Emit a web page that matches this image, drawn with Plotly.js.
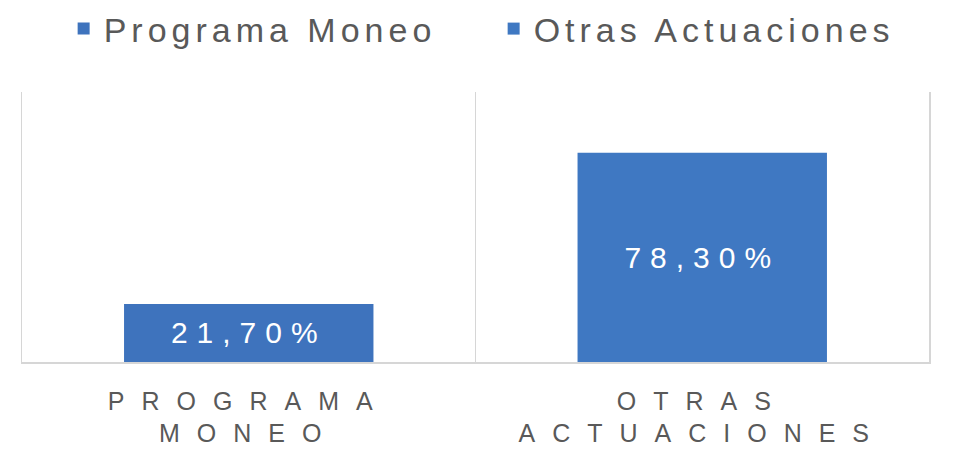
<!DOCTYPE html>
<html>
<head>
<meta charset="utf-8">
<script src="https://cdn.plot.ly/plotly-3.0.1.min.js"></script>
<style>
  html, body { margin: 0; padding: 0; background: #ffffff; }
  #chart { width: 960px; height: 453px; }
  .xtick text { letter-spacing: 17px; }
  text.bartext { letter-spacing: 9px; }
  text.legendtext { letter-spacing: 5px; }
</style>
</head>
<body>
<div id="chart"></div>
<script>
// ---- data ----
var categories = ["PROGRAMA<br>MONEO", "OTRAS<br>ACTUACIONES"];
var seriesNames = ["Programa Moneo", "Otras Actuaciones"];
var seriesValues = [21.7, 78.3];
var valueLabels = ["21,70%", "78,30%"];
var barColors = ["#3e73bd", "#3f78c2"];

var traces = seriesNames.map(function (name, i) {
  return {
    type: "bar",
    name: name,
    x: [categories[i]],
    y: [seriesValues[i]],
    text: [valueLabels[i]],
    textposition: "inside",
    insidetextanchor: "middle",
    textfont: { family: "Liberation Sans, Arial, sans-serif", size: 30, color: "#ffffff" },
    marker: { color: barColors[i] },
    width: 0.55,
    hoverinfo: "none"
  };
});

var layout = {
  width: 960,
  height: 453,
  margin: { l: 22, r: 31, t: 92, b: 91, autoexpand: false },
  paper_bgcolor: "#ffffff",
  plot_bgcolor: "#ffffff",
  barmode: "overlay",
  font: { family: "Liberation Sans, Arial, sans-serif", color: "#595959" },
  showlegend: true,
  legend: {
    orientation: "h",
    x: 0.52,
    xanchor: "center",
    xref: "paper",
    yref: "container",
    y: 1.0,
    yanchor: "top",
    font: { size: 34, color: "#595959" },
    entrywidth: 385,
    entrywidthmode: "pixels",
    traceorder: "normal"
  },
  xaxis: {
    type: "category",
    tickson: "boundaries",
    showgrid: true,
    gridcolor: "#d6d6d6",
    gridwidth: 1.5,
    showline: true,
    linecolor: "#d6d6d6",
    linewidth: 1.5,
    ticks: "",
    ticklabelstandoff: 16,
    tickfont: { size: 25, color: "#595959" },
    fixedrange: true
  },
  yaxis: {
    range: [0, 101],
    showgrid: false,
    zeroline: false,
    showticklabels: false,
    ticks: "",
    showline: true,
    mirror: true,
    linecolor: "#d6d6d6",
    linewidth: 1.5,
    fixedrange: true
  }
};

Plotly.newPlot("chart", traces, layout, { displayModeBar: false, staticPlot: true });
</script>
</body>
</html>
